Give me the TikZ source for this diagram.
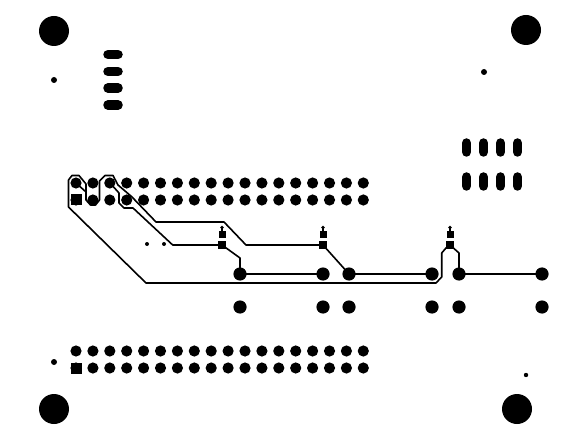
\documentclass[tikz,border=0pt]{standalone}
\usepackage{amsmath}
\usetikzlibrary{calc}
\newcommand{\figuresize}{1pt}
\tikzset{
	trace/.style={line width=1.6pt, line join=round},
	slot/.style={line width=9.5pt, line cap=round}
}
\newcommand{\makehole}[3]{
	\fill (#1,#2) circle (#3);
}
\newcommand{\makesmd}[2]{
	\coordinate (#1top) at (#2,234.5);
	\coordinate (#1) at (#2,245);
	\fill ($(#1top)+(-3.5,-3.5)$) rectangle ($(#1top)+(3.5,3.5)$);
	\fill ($(#1)+(-4,-4)$) rectangle ($(#1)+(4,4)$);
	\draw[line width=1.2pt] (#1top) -- ++(0,-7);
	\fill ($(#1top)+(0,-7)$) circle (1.8);
}

\begin{document}
\begin{tikzpicture}[x=\figuresize,y=-\figuresize]
	\useasboundingbox (0,0) rectangle (564,430);

	% mounting holes and small drills
	\makehole{54}{31}{15}
	\makehole{526}{30}{15}
	\makehole{54}{409}{15}
	\makehole{517}{409}{15}
	\makehole{54}{80}{3}
	\makehole{484}{72}{3}
	\makehole{54}{362}{3}
	\makehole{526}{375}{2.2}
	\makehole{147}{244}{2}
	\makehole{164}{244}{2}

	% slots
	\foreach \y in {54.5,71.5,88,105}
		\draw[slot] (108,\y) -- (118,\y);
	\foreach \x in {466.5,483.5,500.5,517.5}{
		\draw[slot] (\x,143) -- (\x,152);
		\draw[slot] (\x,177) -- (\x,186);
	}

	% headers
	\foreach \i in {0,...,17}{
		\foreach \y in {183,200,351,368}{
			\fill (76+16.9*\i,\y) circle (5.6);
		}
	}
	\fill (70.5,194.5) rectangle (82,205.5);
	\fill (70.5,362.5) rectangle (82,373.5);

	% vias
	\foreach \name/\x in {a/240,b/323,c/349,d/432,e/459,f/542}{
		\coordinate (\name) at (\x,274);
		\fill (\name) circle (6.6);
		\fill (\x,307) circle (6.6);
	}

	\makesmd{P}{222}
	\makesmd{Q}{323}
	\makesmd{R}{450}

	\coordinate (H1) at (76,183);
	\coordinate (H2) at (93,200);
	\coordinate (H3) at (110,183);

	\draw[trace] (R) -- (446,248) -- (441.7,253) -- (441.7,277) -- (436,283) -- (146,283) -- (68.5,207) -- (68.5,180) -- (72,175.5) -- (79,175.5) -- (86,184) -- (86,200) -- (90.5,205) -- (95.5,205) -- (99.5,200) -- (99.5,181) -- (105,175.5) -- (113,175.5) -- (118,185) -- (131.7,196.7) -- (156,222) -- (224,222) -- (246,245) -- (Q) -- (c);
	\draw[trace] (H1) -- (86,192);
	\draw[trace] (H2) -- (91,205);
	\draw[trace] (H3) -- (119,193) -- (119,203) -- (124,208) -- (133,208) -- (172.7,245) -- (P) -- (240,258) -- (a);
	\draw[trace] (a) -- (b);
	\draw[trace] (c) -- (d);
	\draw[trace] (R) -- (459,253) -- (e) -- (f);
\end{tikzpicture}
\end{document}
